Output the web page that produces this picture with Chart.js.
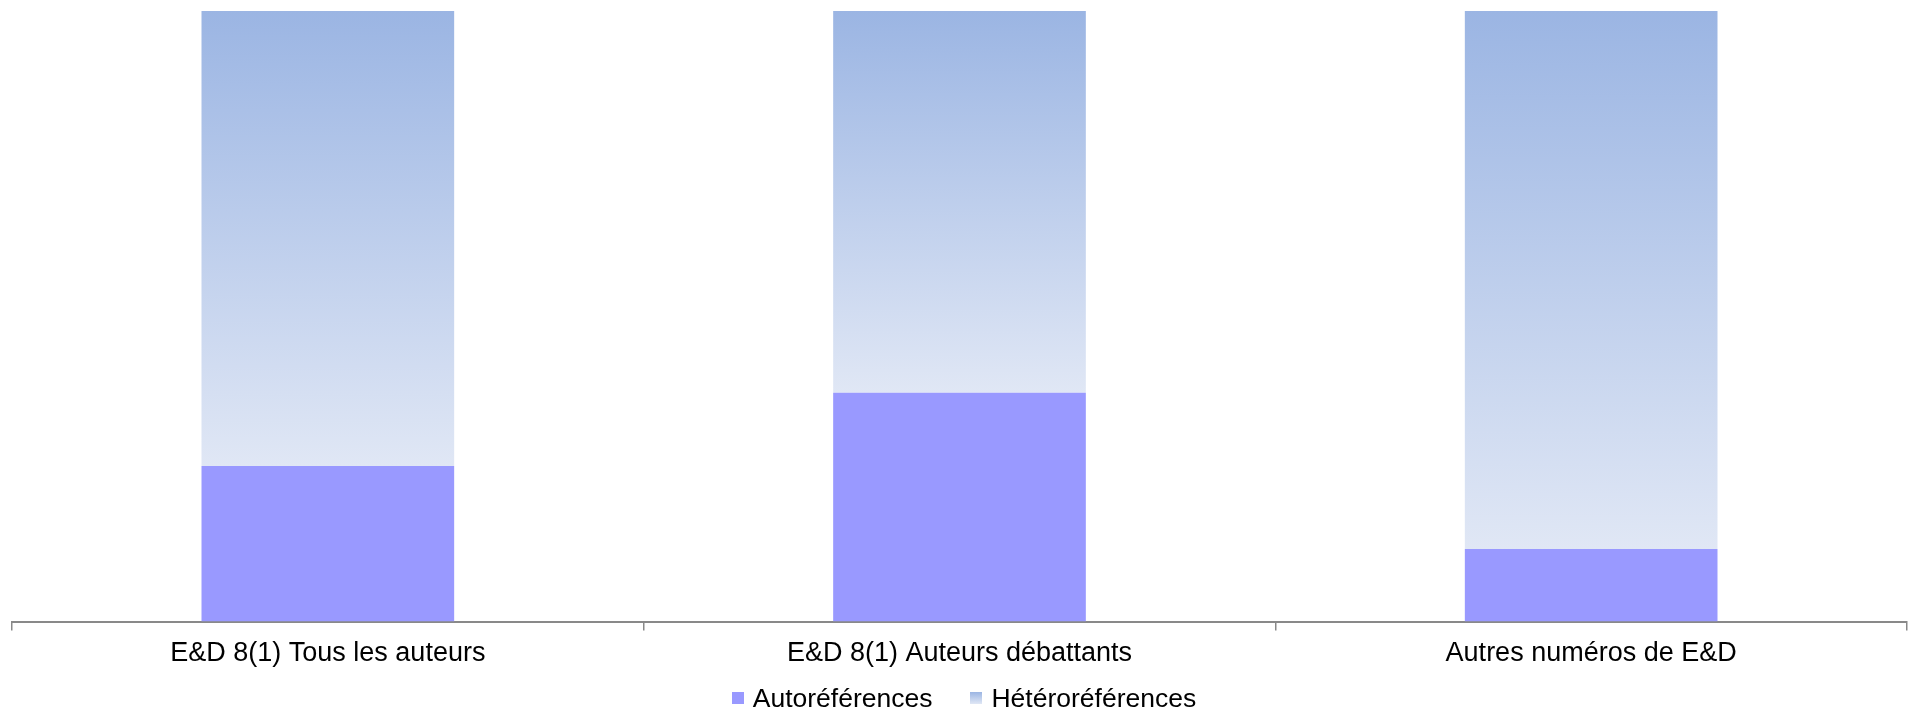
<!DOCTYPE html>
<html>
<head>
<meta charset="utf-8">
<script src="https://cdn.jsdelivr.net/npm/chart.js@4.4.1/dist/chart.umd.min.js"></script>
<style>
  html, body { margin: 0; padding: 0; background: #ffffff; }
  #wrap { width: 1910px; height: 712px; position: relative; overflow: hidden; }
  #legend { position: absolute; left: 0; width: 1910px; top: 680px; height: 36px; box-sizing: border-box; padding-left: 18px;
            display: flex; justify-content: center; align-items: center;
            font-family: 'Liberation Sans', Arial, sans-serif; font-size: 26.5px; color: #000; }
  .item { display: flex; align-items: center; margin: 0 19px; }
  .box { width: 12px; height: 12px; margin-right: 9px; }
</style>
</head>
<body>
<div id="wrap">
  <canvas id="c" width="1910" height="712"></canvas>
  <div id="legend"></div>
</div>
<script>
const categories = ["E&D 8(1) Tous les auteurs", "E&D 8(1) Auteurs débattants", "Autres numéros de E&D"];
const seriesNames = ["Autoréférences", "Hétéroréférences"];
const autoRefs = [25.5, 37.5, 11.9];
const heteroRefs = [74.5, 62.5, 88.1];

const FONT = "'Liberation Sans', Arial, sans-serif";
const AUTO_COLOR = '#9999FF';
const HET_TOP = '#9BB5E3';
const HET_BOTTOM = '#E0E7F5';

function heteroFill(ctx) {
  const chart = ctx.chart;
  if (!chart.chartArea || ctx.type !== 'data') return '#C3D1EE';
  const y = chart.scales.y;
  const i = ctx.dataIndex;
  const top = y.getPixelForValue(autoRefs[i] + heteroRefs[i]);
  const bottom = y.getPixelForValue(autoRefs[i]);
  const g = chart.ctx.createLinearGradient(0, top, 0, bottom);
  g.addColorStop(0, HET_TOP);
  g.addColorStop(1, HET_BOTTOM);
  return g;
}

const chart = new Chart(document.getElementById('c'), {
  type: 'bar',
  data: {
    labels: categories,
    datasets: [
      { label: seriesNames[0], data: autoRefs, backgroundColor: AUTO_COLOR, borderWidth: 0,
        categoryPercentage: 1, barPercentage: 0.4 },
      { label: seriesNames[1], data: heteroRefs, backgroundColor: heteroFill, borderWidth: 0,
        categoryPercentage: 1, barPercentage: 0.4 }
    ]
  },
  options: {
    responsive: false,
    animation: false,
    devicePixelRatio: 1,
    layout: { padding: { left: 12, right: 3, top: 11, bottom: 35 } },
    plugins: {
      tooltip: { enabled: false },
      legend: { display: false }
    },
    scales: {
      x: {
        stacked: true,
        offset: true,
        grid: { display: true, offset: true, drawOnChartArea: false, drawTicks: true, tickLength: 9, color: '#898989', lineWidth: 1.5 },
        border: { display: true, color: '#898989', width: 2 },
        ticks: { font: { family: FONT, size: 27 }, color: '#000000', padding: 7 }
      },
      y: {
        stacked: true,
        display: false,
        min: 0,
        max: 100
      }
    }
  }
});

// HTML legend built from the dataset names and colours
const legend = document.getElementById('legend');
seriesNames.forEach((name, i) => {
  const item = document.createElement('div');
  item.className = 'item';
  const box = document.createElement('span');
  box.className = 'box';
  box.style.background = i === 0 ? AUTO_COLOR : `linear-gradient(${HET_TOP}, ${HET_BOTTOM})`;
  const txt = document.createElement('span');
  txt.textContent = name;
  item.appendChild(box);
  item.appendChild(txt);
  legend.appendChild(item);
});
</script>
</body>
</html>
